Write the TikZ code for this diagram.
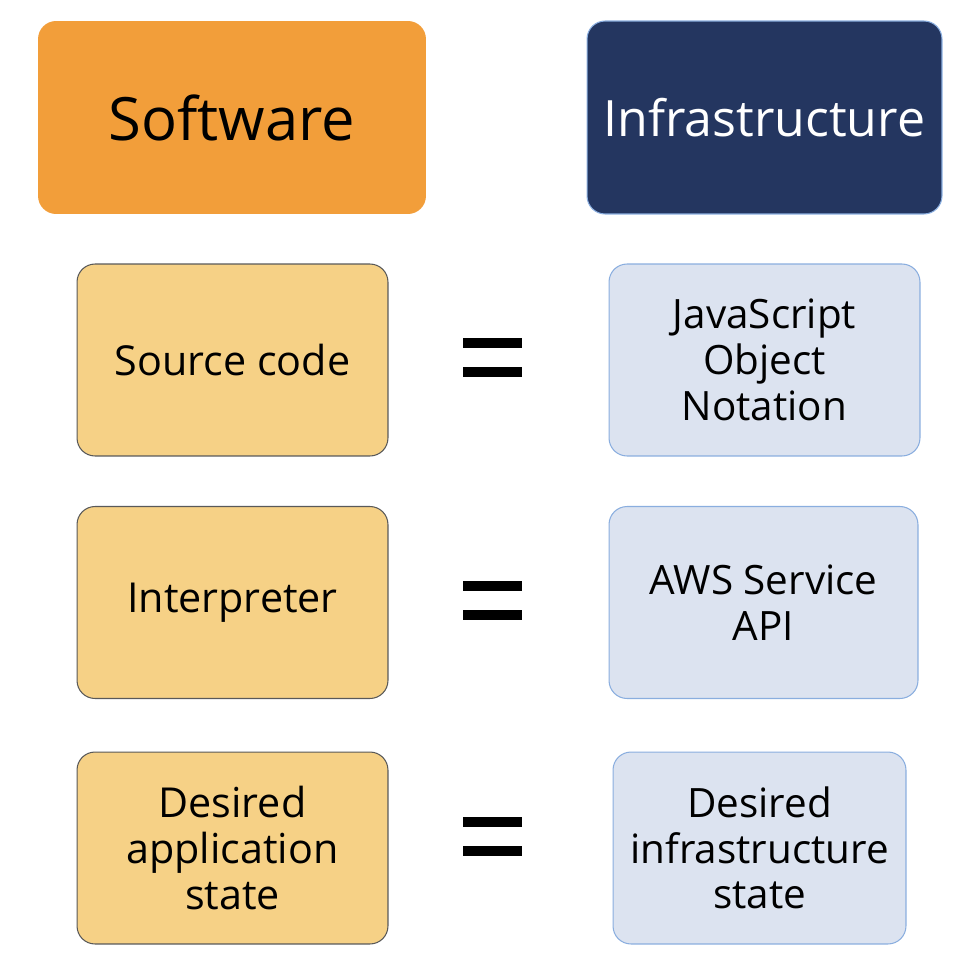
\documentclass[tikz,border=0pt]{standalone}
\usepackage{fontspec}
\setmainfont{Open Sans}
\usepackage{tikz}
\usetikzlibrary{arrows}
\definecolor{swhead}{HTML}{F29E3A}
\definecolor{infhead}{HTML}{243660}
\definecolor{swfill}{HTML}{F6D186}
\definecolor{inffill}{HTML}{DCE3F0}
\definecolor{infline}{HTML}{8AAEDF}
\begin{document}
\begin{tikzpicture}[x=0.02cm,y=-0.02cm,
	head node/.style={rectangle,rounded corners=0.36cm,inner sep=0pt,minimum height=3.86cm,align=center},
	sw node/.style={rectangle,rounded corners=0.36cm,draw=black!65,fill=swfill,line width=0.6pt,inner sep=0pt,minimum width=6.22cm,minimum height=3.84cm,font=\fontsize{23.5}{26}\selectfont,align=center},
	inf node/.style={rectangle,rounded corners=0.36cm,draw=infline,fill=inffill,line width=0.6pt,inner sep=0pt,minimum height=3.84cm,font=\fontsize{23}{26}\selectfont,align=center},
	eq node/.style={fill=black,inner sep=0pt,minimum width=1.18cm,minimum height=0.2cm}]
	\useasboundingbox (0,0) rectangle (980,980);
	% headings
	\node[head node,fill=swhead,minimum width=7.76cm,font=\fontsize{34}{36}\selectfont] (sw) at (232,117.5) {Software};
	\node[head node,fill=infhead,draw=infline,line width=0.6pt,text=white,minimum width=7.1cm,font=\fontsize{28.5}{36}\selectfont] (infra) at (764.5,117.5) {Infrastructure};
	% left column
	\node[sw node] (src) at (232.5,360) {Source code};
	\node[sw node] (interp) at (232.5,602.5) {Interpreter};
	\node[sw node] (appstate) at (232.5,848) {Desired\\application\\state};
	% right column
	\node[inf node,minimum width=6.22cm] (json) at (764.5,360) {JavaScript\\Object\\Notation};
	\node[inf node,minimum width=6.18cm] (api) at (763.5,602.5) {AWS Service\\API};
	\node[inf node,minimum width=5.86cm] (infstate) at (759.5,848) {Desired\\infrastructure\\state};
	% equals signs
	\foreach \y/\n in {357/1,600/2,836/3}{
		\node[eq node] (eqa\n) at (492.5,\y-14.5) {};
		\node[eq node] (eqb\n) at (492.5,\y+14.5) {};
	}
\end{tikzpicture}
\end{document}
